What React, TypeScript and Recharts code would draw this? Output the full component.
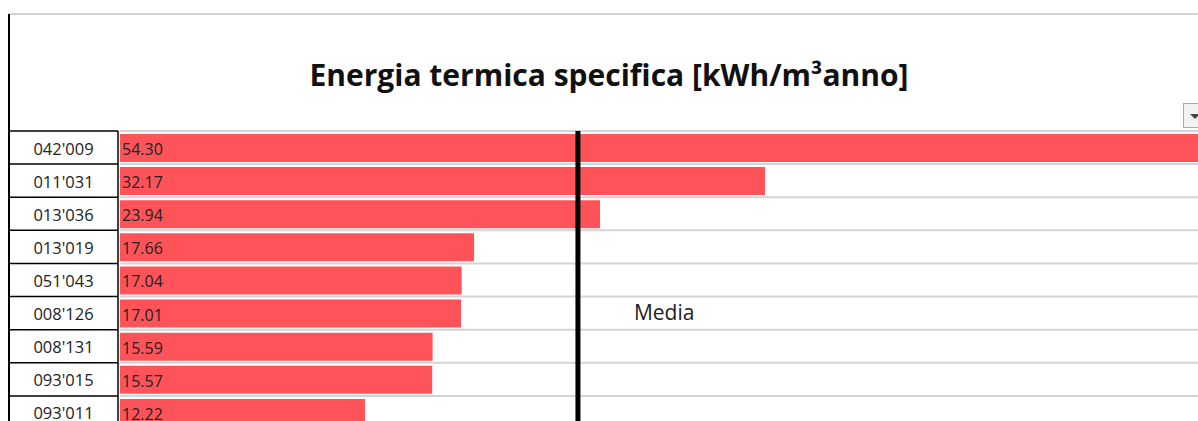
import React from 'react';
import { BarChart, Bar, XAxis, YAxis, CartesianGrid, ReferenceLine, LabelList } from 'recharts';

const codes = ["042'009", "011'031", "013'036", "013'019", "051'043", "008'126", "008'131", "093'015", "093'011"];
const values = [54.3, 32.17, 23.94, 17.66, 17.04, 17.01, 15.59, 15.57, 12.22];
const media = 22.84;
const xDomain = [0, 60];

const data = codes.map((code, i) => ({ code, value: values[i] }));

const TOP = 131;
const CH = 429;
const ROW = (CH - TOP) / codes.length;
const FONT = '"Open Sans", "Noto Sans", sans-serif';

function CodeTick(props: any) {
  const { y, payload } = props;
  const top = y - ROW / 2;
  return (
    <g>
      <line x1={9} x2={118} y1={top} y2={top} stroke="#000" strokeWidth={1.5} />
      <line x1={118} x2={118} y1={top} y2={top + ROW} stroke="#000" strokeWidth={1.5} />
      <text x={63.5} y={y} dy={7} textAnchor="middle" fontSize={16.5} fill="#222" fontFamily={FONT}>
        {payload.value}
      </text>
    </g>
  );
}

function ValueLabel(props: any) {
  const { x, y, height, value } = props;
  return (
    <text x={x + 2} y={y + height / 2} dy={7} fontSize={16} fill="#222" fontFamily={FONT}>
      {Number(value).toFixed(2)}
    </text>
  );
}

function MediaLabel(props: any) {
  const { viewBox } = props;
  return (
    <text x={viewBox.x + 56} y={viewBox.y + 182} dy={7} fontSize={21} fill="#222" fontFamily={FONT}>
      Media
    </text>
  );
}

export default function App() {
  return (
    <div style={{ position: 'fixed', left: 0, top: 0, width: 1198, height: 421, overflow: 'hidden', background: '#fff', fontFamily: FONT }}>
      <div style={{ position: 'absolute', left: 9, top: 13, width: 1189, height: 2, background: '#d4d4d4' }} />
      <div style={{ position: 'absolute', left: 8, top: 14, width: 2, height: 410, background: '#000' }} />
      <div style={{ position: 'absolute', left: 0, width: 1218, top: 54, textAlign: 'center', fontSize: 30, fontWeight: 700, color: '#111', lineHeight: '42px' }}>
        Energia termica specifica [kWh/m³anno]
      </div>
      <div style={{ position: 'absolute', left: 1183, top: 103, width: 20, height: 25, boxSizing: 'border-box', border: '1px solid #a9a9a9', background: '#f2f2f2' }}>
        <div style={{ position: 'absolute', left: 6, top: 10, width: 0, height: 0, borderLeft: '5px solid transparent', borderRight: '5px solid transparent', borderTop: '5px solid #444' }} />
      </div>
      <div style={{ position: 'absolute', left: 0, top: 0 }}>
        <BarChart width={1323} height={CH} data={data} layout="vertical" margin={{ top: TOP, right: 0, bottom: 0, left: 9 }}>
          <CartesianGrid
            vertical={false}
            stroke="#d4d4d4"
            strokeWidth={2}
            horizontalCoordinatesGenerator={({ offset }: any) =>
              Array.from({ length: codes.length + 1 }, (_, i) => offset.top + (i * offset.height) / codes.length)
            }
          />
          <XAxis type="number" domain={xDomain} hide />
          <YAxis type="category" dataKey="code" width={111} axisLine={false} tickLine={false} tick={<CodeTick />} interval={0} />
          <Bar dataKey="value" fill="#ff535a" barSize={28} isAnimationActive={false}>
            <LabelList dataKey="value" content={<ValueLabel />} />
          </Bar>
          <ReferenceLine x={media} stroke="#000" strokeWidth={5} label={<MediaLabel />} />
        </BarChart>
      </div>
    </div>
  );
}
